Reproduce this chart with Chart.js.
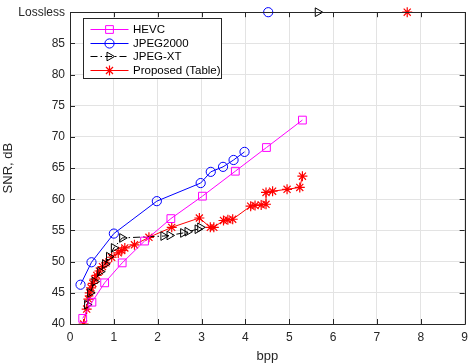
<!DOCTYPE html>
<html>
<head>
<meta charset="utf-8">
<script src="https://cdn.jsdelivr.net/npm/chart.js@4.4.1/dist/chart.umd.min.js"></script>
<style>
html,body{margin:0;padding:0;background:#fff;}
#wrap{width:474px;height:364px;position:relative;}
</style>
</head>
<body>
<div id="wrap"><canvas id="c" width="474" height="364"></canvas></div>
<script>
// ---- data ----
const xTicks = [0,1,2,3,4,5,6,7,8,9];
const yTicks = [40,45,50,55,60,65,70,75,80,85,90];
const yTickLabels = ['40','45','50','55','60','65','70','75','80','85','Lossless'];
const seriesNames = ['HEVC','JPEG2000','JPEG-XT','Proposed (Table)'];

const hevcBpp = [0.29,0.50,0.79,1.19,1.70,2.30,3.02,3.77,4.48,5.30];
const hevcSnr = [40.9,43.5,46.6,49.8,53.3,56.9,60.5,64.5,68.3,72.7];

const j2kBpp = [0.24,0.49,1.00,1.98,2.98,3.21,3.49,3.73,3.98];
const j2kSnr = [46.3,49.9,54.5,59.7,62.6,64.4,65.2,66.3,67.6];

const xtBpp = [0.39,0.46,0.56,0.69,0.80,0.89,1.00,1.19,2.13,2.27,2.58,2.68,2.91,2.97];
const xtSnr = [43.1,45.0,46.8,48.4,49.6,50.8,52.2,53.8,54.1,54.2,54.6,54.8,55.2,55.5];

const propBpp = [0.31,0.38,0.42,0.45,0.48,0.52,0.56,0.61,0.67,0.74,0.82,0.95,1.10,1.18,1.25,1.47,1.80,2.32,2.95,3.20,3.28,3.50,3.60,3.71,4.12,4.22,4.36,4.47,4.47,4.62,4.95,5.24,5.30];
const propSnr = [40.0,42.4,44.0,45.0,45.8,46.5,47.2,47.8,48.5,49.2,49.8,50.7,51.4,51.8,52.2,52.7,53.9,55.5,57.0,55.5,55.5,56.6,56.7,56.8,58.9,59.0,59.1,59.2,61.1,61.3,61.6,61.9,63.7];

// lossless points (order: JPEG2000, JPEG-XT, Proposed)
const losslessBpp = [4.52,5.65,7.69];
const losslessSnr = [90,90,90];

const pts = (xs, ys) => xs.map((x,i)=>({x:x,y:ys[i]}));

const MAG='#ff00ff', BLU='#0000ff', BLK='#000000', RED='#ff0000', AX='#262626';
const FONT='"Liberation Sans", Arial, Helvetica, sans-serif';

const styles = [
  {color:MAG, pointStyle:'rect', r:5.5, dash:[], rot:0, bw:1},
  {color:BLU, pointStyle:'circle', r:4.6, dash:[], rot:0, bw:1},
  {color:BLK, pointStyle:'triangle', r:5, dash:[7,3,1.5,3], rot:90, bw:1},
  {color:RED, pointStyle:'star', r:5, dash:[], rot:0, bw:1.2}
];

function ds(label, data, st, showLine) {
  return {
    label: label, data: data, showLine: showLine,
    borderColor: st.color, backgroundColor: 'rgba(0,0,0,0)',
    borderWidth: 1, borderDash: st.dash,
    pointStyle: st.pointStyle, pointRadius: st.r, pointRotation: st.rot,
    pointBorderColor: st.color, pointBackgroundColor: 'rgba(0,0,0,0)',
    pointBorderWidth: st.bw, pointHoverRadius: st.r,
    tension: 0
  };
}

const datasets = [
  ds(seriesNames[0], pts(hevcBpp,hevcSnr), styles[0], true),
  ds(seriesNames[1], pts(j2kBpp,j2kSnr), styles[1], true),
  ds(seriesNames[2], pts(xtBpp,xtSnr), styles[2], true),
  ds(seriesNames[3], pts(propBpp,propSnr), styles[3], true),
  ds(seriesNames[1]+' lossless', [{x:losslessBpp[0],y:losslessSnr[0]}], styles[1], false),
  ds(seriesNames[2]+' lossless', [{x:losslessBpp[1],y:losslessSnr[1]}], styles[2], false),
  ds(seriesNames[3]+' lossless', [{x:losslessBpp[2],y:losslessSnr[2]}], styles[3], false)
];
for (let i=0;i<4;i++) datasets[i].clip = {left:0, right:0, top:0, bottom:0};
for (let i=4;i<7;i++) datasets[i].clip = false;

const boxPlugin = {
  id:'box',
  afterDatasetsDraw(chart){
    const {ctx, chartArea:a, scales} = chart;
    ctx.save();
    ctx.strokeStyle = AX; ctx.lineWidth = 1;
    ctx.beginPath();
    ctx.rect(Math.round(a.left)+0.5, Math.round(a.top)+0.5, Math.round(a.right-a.left), Math.round(a.bottom-a.top));
    ctx.stroke();
    const L=5;
    ctx.beginPath();
    xTicks.forEach(v=>{
      const px = Math.round(scales.x.getPixelForValue(v))+0.5;
      ctx.moveTo(px, a.bottom); ctx.lineTo(px, a.bottom-L);
      ctx.moveTo(px, a.top); ctx.lineTo(px, a.top+L);
    });
    yTicks.forEach(v=>{
      const py = Math.round(scales.y.getPixelForValue(v))+0.5;
      ctx.moveTo(a.left, py); ctx.lineTo(a.left+L, py);
      ctx.moveTo(a.right, py); ctx.lineTo(a.right-L, py);
    });
    ctx.stroke();
    ctx.restore();
  },
  afterDraw(chart){
    const ctx = chart.ctx;
    const bx=83.5, by=18.5, bw=138, bh=60;
    ctx.save();
    ctx.fillStyle='#fff'; ctx.fillRect(bx,by,bw,bh);
    ctx.strokeStyle=AX; ctx.lineWidth=1; ctx.setLineDash([]);
    ctx.strokeRect(bx,by,bw,bh);
    const rows=[29,42.5,56,70];
    ctx.font = '11.5px '+FONT;
    ctx.textBaseline='middle'; ctx.textAlign='left';
    for (let i=0;i<4;i++){
      const st = styles[i], y = Math.round(rows[i])+0.5;
      ctx.strokeStyle = st.color; ctx.lineWidth=1;
      ctx.setLineDash(st.dash);
      ctx.beginPath(); ctx.moveTo(90.5,y); ctx.lineTo(128.5,y); ctx.stroke();
      ctx.setLineDash([]);
      ctx.fillStyle='rgba(0,0,0,0)';
      ctx.strokeStyle = st.color; ctx.lineWidth = st.bw;
      Chart.helpers.drawPoint(ctx, {pointStyle:st.pointStyle, radius:st.r, rotation:st.rot, borderWidth:st.bw}, 109.5, y);
      ctx.fillStyle='#000';
      ctx.fillText(seriesNames[i], 133, y+0.5);
    }
    ctx.restore();
  }
};

Chart.defaults.font.family = FONT;
Chart.defaults.color = AX;

new Chart(document.getElementById('c'), {
  type:'scatter',
  data:{datasets:datasets},
  options:{
    responsive:false, animation:false, devicePixelRatio:1,
    layout:{padding:{top:6,right:5,left:0,bottom:0}},
    plugins:{legend:{display:false}, tooltip:{enabled:false}},
    elements:{line:{borderWidth:1}},
    scales:{
      x:{
        type:'linear', min:0, max:9,
        afterBuildTicks(s){ s.ticks = xTicks.map(v=>({value:v})); },
        afterFit(s){ s.height = 40; },
        ticks:{font:{size:12}, color:AX, padding:6, maxRotation:0},
        grid:{color:'#e3e3e3', drawTicks:false, lineWidth:1},
        border:{display:true, color:AX},
        title:{display:true, text:'bpp', font:{size:13}, color:AX, padding:{top:0,bottom:0}}
      },
      y:{
        type:'linear', min:40, max:90,
        afterBuildTicks(s){ s.ticks = yTicks.map(v=>({value:v})); },
        afterFit(s){ s.width = 70; },
        ticks:{font:{size:12}, color:AX, padding:5,
          callback:(v)=>{ const i=yTicks.indexOf(v); return i>=0?yTickLabels[i]:''; }},
        grid:{color:'#e3e3e3', drawTicks:false, lineWidth:1},
        border:{display:true, color:AX},
        title:{display:true, text:'SNR, dB', font:{size:13}, color:AX, padding:{top:1,bottom:0}}
      }
    }
  },
  plugins:[boxPlugin]
});
</script>
</body>
</html>
